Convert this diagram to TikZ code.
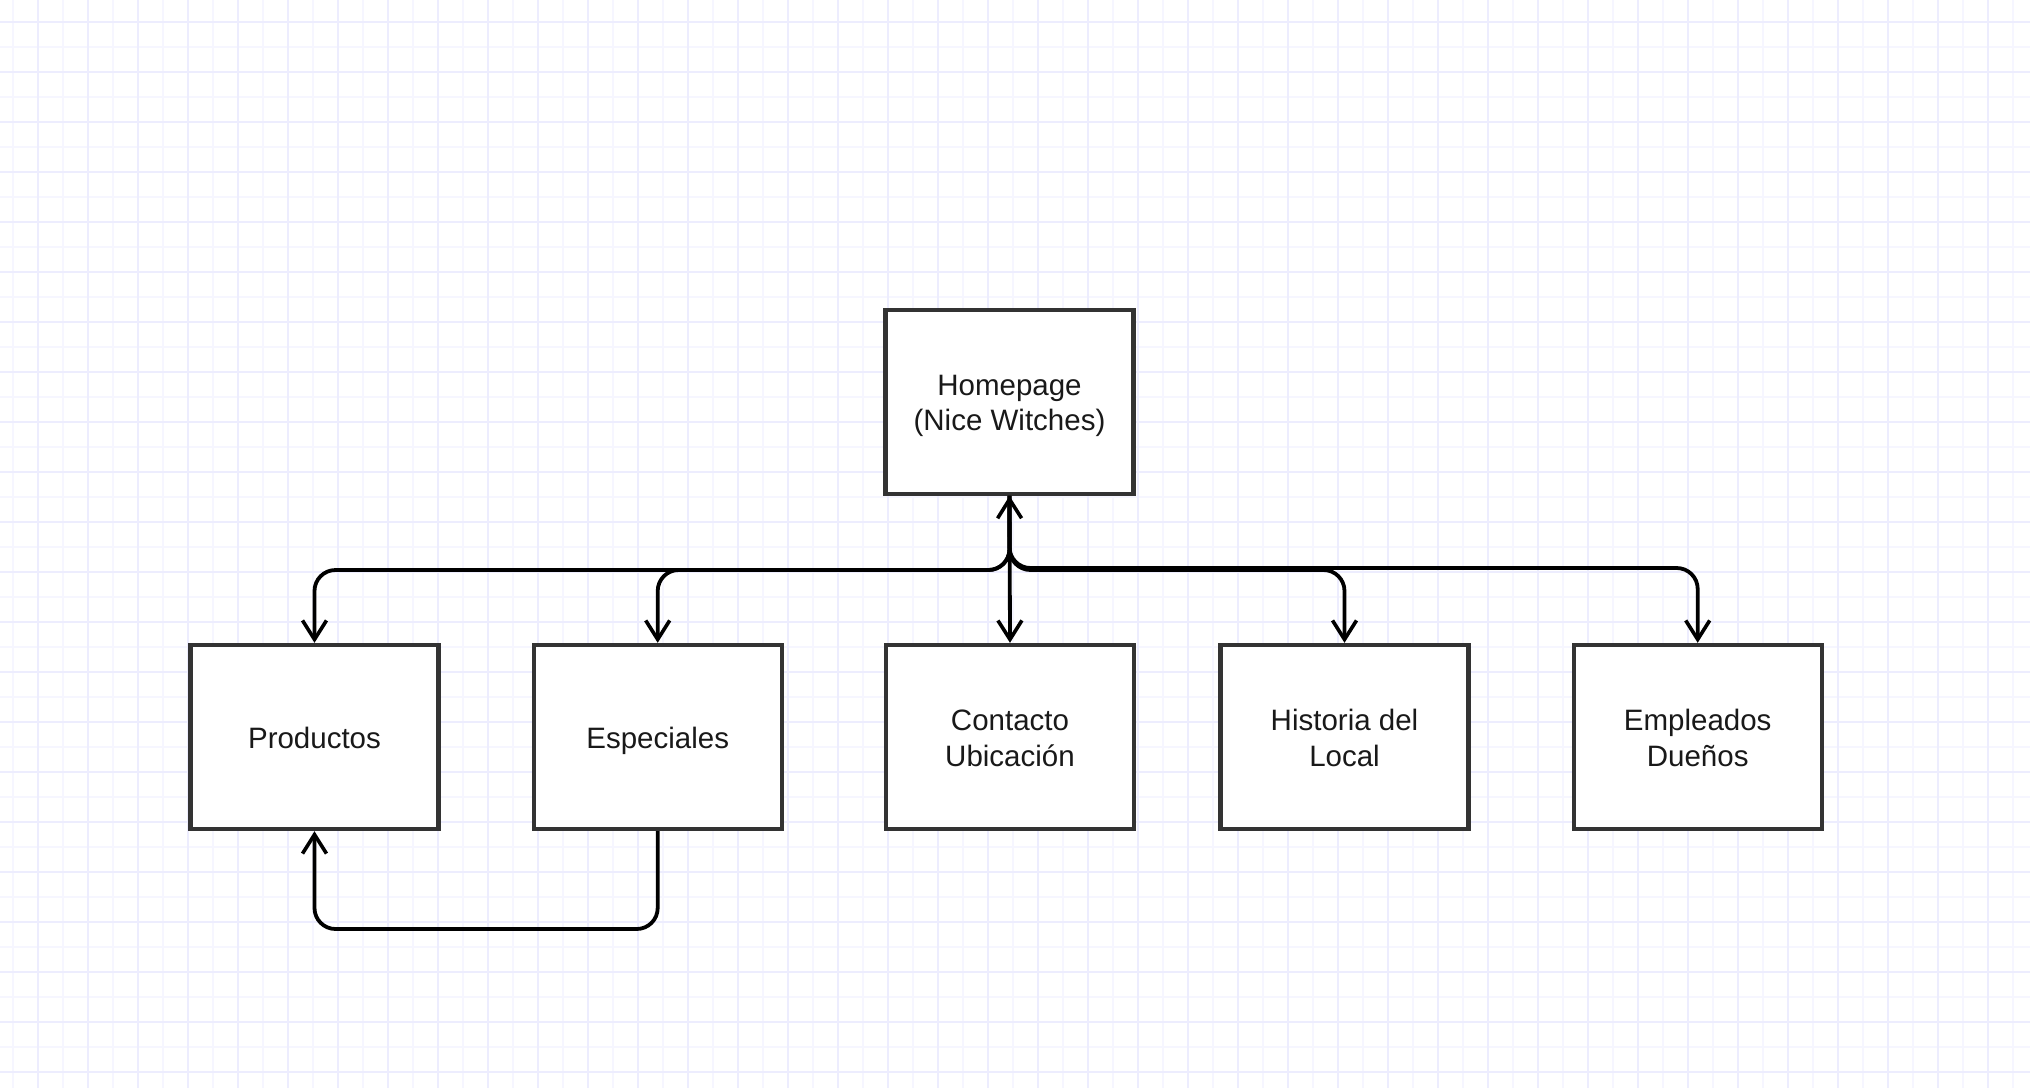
\documentclass[tikz,border=0pt]{standalone}
\usepackage{fontspec}
\setmainfont{Liberation Sans}
\usetikzlibrary{arrows.meta}
\definecolor{gridlight}{HTML}{F6F6FF}
\definecolor{griddark}{HTML}{EDEDFE}
\definecolor{boxline}{HTML}{333333}
\newcommand\topst{\rule{0pt}{31pt}}
\newcommand\botst{\rule[-8pt]{0pt}{8pt}}
\tikzset{
  pagebox/.style={draw=boxline, line width=4.4pt, fill=white, minimum width=248pt, minimum height=184pt, inner sep=0pt, align=center, font=\fontsize{29.5}{35.5}\selectfont, text=black!90},
  link/.style={draw=black, line width=3.8pt, rounded corners=21pt, -{Straight Barb[length=19pt,width=24pt,line width=3.6pt]}},
  biglink/.style={draw=black, line width=3.8pt, {Straight Barb[length=19pt,width=24pt,line width=3.6pt]}-{Straight Barb[length=19pt,width=24pt,line width=3.6pt]}}
}
\begin{document}
\begin{tikzpicture}[x=1pt,y=-1pt]
\useasboundingbox (0,0) rectangle (2030,1088);
\fill[white] (0,0) rectangle (2030,1088);
% grid
\foreach \gx in {13,63,...,2030} \draw[gridlight, line width=1.5pt] (\gx,0) -- (\gx,1088);
\foreach \gy in {47,97,...,1088} \draw[gridlight, line width=1.5pt] (0,\gy) -- (2030,\gy);
\foreach \gx in {38,88,...,2030} \draw[griddark, line width=1.5pt] (\gx,0) -- (\gx,1088);
\foreach \gy in {22,72,...,1088} \draw[griddark, line width=1.5pt] (0,\gy) -- (2030,\gy);

% nodes
\node[pagebox] (home) at (1009.5,401.7) {\topst Homepage\\(Nice Witches)\botst};
\node[pagebox] (prod) at (314.5,737) {\topst Productos\botst};
\node[pagebox] (esp) at (657.7,737) {\topst Especiales\botst};
\node[pagebox] (cont) at (1010,737) {\topst Contacto\\Ubicación\botst};
\node[pagebox] (hist) at (1344.5,737) {\topst Historia del\\Local\botst};
\node[pagebox] (emp) at (1697.7,737) {\topst Empleados\\Dueños\botst};

\coordinate (bus) at (0,570);
\coordinate (bus2) at (0,568);
\coordinate (ret) at (0,929);

% connectors
\draw[link] (home.south) |- (bus -| prod.north) -- (prod.north);
\draw[link] (home.south) |- (bus -| esp.north) -- (esp.north);
\draw[link] (home.south) |- (bus -| hist.north) -- (hist.north);
\draw[link] (home.south) |- (bus2 -| emp.north) -- (emp.north);
\draw[biglink] (home.south) -- (cont.north);
\draw[link] (esp.south) |- (ret -| prod.south) -- (prod.south);
\end{tikzpicture}
\end{document}
